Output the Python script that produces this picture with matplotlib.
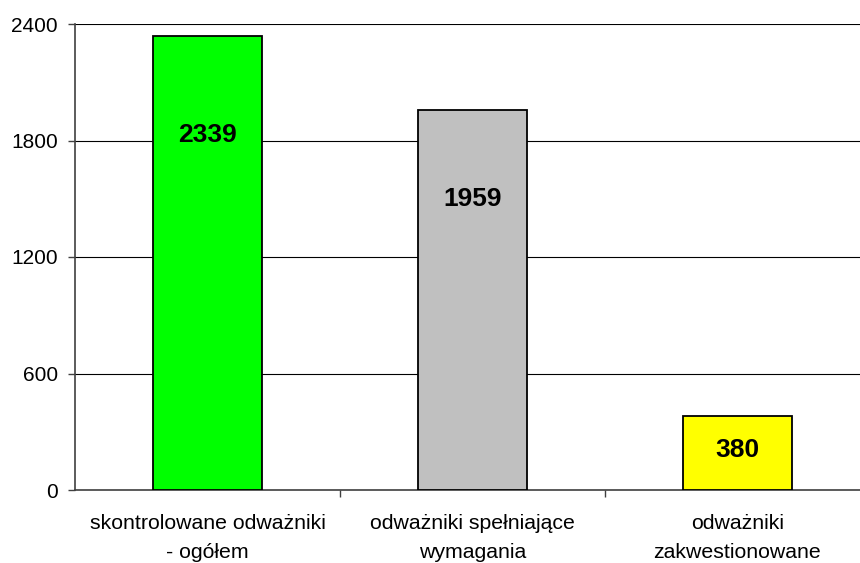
import matplotlib
matplotlib.use("Agg")
import matplotlib.pyplot as plt
import numpy as np

categories = ["skontrolowane odważniki\n- ogółem", "odważniki spełniające\nwymagania", "odważniki\nzakwestionowane"]
values = [2339, 1959, 380]
label_pos = [1828, 1498, 206]
colors = ["#00FF00", "#C0C0C0", "#FFFF00"]
yticks = [0, 600, 1200, 1800, 2400]

plt.rcParams['font.family'] = ['Liberation Sans', 'DejaVu Sans']

fig = plt.figure(figsize=(8.6, 5.63), dpi=100)
W, H = 860, 563
x0, x1 = 75, 870
y0, y1 = 490, 24
ax = fig.add_axes([x0 / W, (H - y0) / H, (x1 - x0) / W, (y0 - y1) / H])

x = np.arange(len(values))
ax.bar(x, values, width=0.41, color=colors, edgecolor="black", linewidth=1.3, zorder=3)
for xi, v, lp in zip(x, values, label_pos):
    ax.text(xi, lp, str(v), ha="center", va="center", fontsize=19, fontweight="bold", zorder=4)

ax.set_xlim(-0.5, len(values) - 0.5)
ax.set_ylim(0, 2400)
ax.set_yticks(yticks)
ax.set_yticklabels([str(t) for t in yticks], fontsize=15)
ax.yaxis.grid(True, color="black", linewidth=0.8, zorder=0)
ax.set_axisbelow(True)

ax.set_xticks(x)
ax.set_xticklabels(categories, fontsize=15.3, linespacing=1.67)
ax.tick_params(axis="x", length=0, pad=17)
ax.set_xticks(np.arange(0.5, len(values) - 0.5 + 0.01, 1.0), minor=True)
ax.tick_params(axis="x", which="minor", length=5, width=1, color="#404040")
ax.tick_params(axis="y", length=5, width=1, color="#404040", pad=7.5)

for s in ["top", "right"]:
    ax.spines[s].set_visible(False)
for s in ["left", "bottom"]:
    ax.spines[s].set_color("#404040")
    ax.spines[s].set_linewidth(1.2)

fig.savefig("out.png", dpi=100)
